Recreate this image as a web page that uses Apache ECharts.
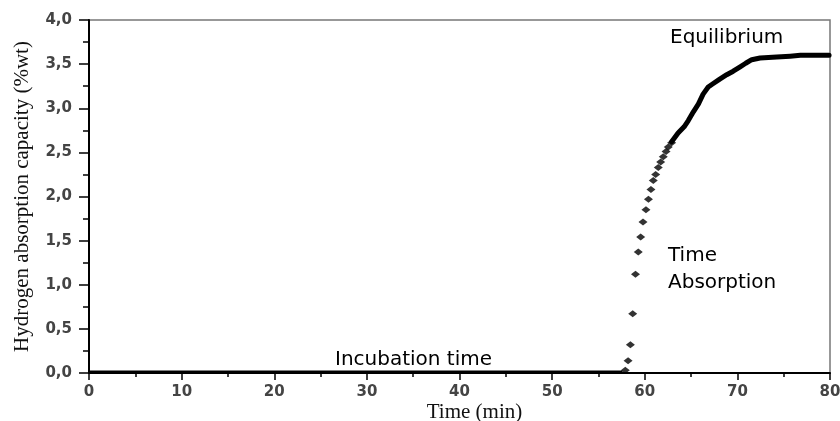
<!DOCTYPE html>
<html>
<head>
<meta charset="utf-8">
<script src="https://cdn.jsdelivr.net/npm/echarts@6/dist/echarts.min.js"></script>
<style>
  html, body { margin: 0; padding: 0; background: #fff; }
  #chart { width: 840px; height: 421px; }
</style>
</head>
<body>
<div id="chart"></div>
<script>
const baselineTime = [0, 15, 30, 45, 57.6]
const baselineCap = [0.015, 0.015, 0.015, 0.015, 0.015]

const steepTime = [57.9, 58.2, 58.45, 58.7, 59.0, 59.3, 59.56, 59.81, 60.13, 60.4, 60.67, 60.92, 61.18, 61.46, 61.72, 62.0, 62.3, 62.54, 62.9]
const steepCap = [0.03, 0.14, 0.32, 0.67, 1.12, 1.37, 1.54, 1.71, 1.85, 1.97, 2.08, 2.18, 2.25, 2.33, 2.39, 2.45, 2.51, 2.56, 2.61]

const plateauTime = [62.9, 63.6, 64.25, 64.7, 65.25, 65.8, 66.3, 66.85, 67.4, 68.1, 68.85, 69.55, 70.3, 70.9, 71.55, 72.45, 74.25, 75.7, 76.8, 79.9]
const plateauCap = [2.62, 2.72, 2.79, 2.86, 2.96, 3.05, 3.16, 3.24, 3.28, 3.33, 3.38, 3.42, 3.47, 3.51, 3.55, 3.57, 3.58, 3.59, 3.60, 3.60]

const pairs = (xs, ys) => xs.map((x, i) => [x, ys[i]])

const chart = echarts.init(document.getElementById('chart'))
const labelFont = { color: '#444', fontFamily: 'DejaVu Sans', fontWeight: 'bold', fontSize: 15 }
const noteFont = '20px "DejaVu Sans"'

chart.setOption({
  animation: false,
  grid: {
    left: 89, right: 10, top: 20, bottom: 48,
    outerBoundsMode: 'none',
    containLabel: false,
    show: true, borderColor: '#777', borderWidth: 1.5
  },
  xAxis: {
    type: 'value',
    min: 0, max: 80, interval: 10,
    name: 'Time (min)',
    nameLocation: 'middle',
    nameGap: 29,
    nameMoveOverlap: false,
    nameTextStyle: { fontFamily: 'Liberation Serif', fontSize: 21, color: '#111', padding: [0, 0, 0, 30] },
    axisLine: { lineStyle: { color: '#000', width: 2 } },
    axisTick: { length: 7, lineStyle: { color: '#000', width: 1.5 } },
    minorTick: { show: true, splitNumber: 2, length: 4, lineStyle: { color: '#000', width: 1.5 } },
    axisLabel: Object.assign({ margin: 12 }, labelFont),
    splitLine: { show: false }
  },
  yAxis: {
    type: 'value',
    min: 0, max: 4, interval: 0.5,
    name: 'Hydrogen absorption capacity (%wt)',
    nameLocation: 'middle',
    nameGap: 56,
    nameMoveOverlap: false,
    nameTextStyle: { fontFamily: 'Liberation Serif', fontSize: 21, color: '#111' },
    axisLine: { lineStyle: { color: '#000', width: 2 } },
    axisTick: { length: 10, lineStyle: { color: '#000', width: 1.5 } },
    minorTick: { show: true, splitNumber: 2, length: 6, lineStyle: { color: '#000', width: 1.5 } },
    axisLabel: Object.assign({ margin: 17, formatter: v => v.toFixed(1).replace('.', ',') }, labelFont),
    splitLine: { show: false }
  },
  series: [
    {
      type: 'line',
      data: pairs(baselineTime, baselineCap),
      symbol: 'none',
      lineStyle: { color: '#000', width: 2.5 }
    },
    {
      type: 'scatter',
      data: pairs(steepTime, steepCap),
      symbol: 'diamond',
      symbolSize: [9, 7],
      itemStyle: { color: '#000' }
    },
    {
      type: 'line',
      data: pairs(plateauTime, plateauCap),
      symbol: 'none',
      lineStyle: { color: '#000', width: 5, cap: 'round', join: 'round' }
    }
  ],
  graphic: [
    { type: 'text', style: { text: 'Equilibrium', x: 670, y: 38, font: noteFont, fill: '#000', textVerticalAlign: 'middle' } },
    { type: 'text', style: { text: 'Time', x: 668, y: 256, font: noteFont, fill: '#000', textVerticalAlign: 'middle' } },
    { type: 'text', style: { text: 'Absorption', x: 668, y: 283, font: noteFont, fill: '#000', textVerticalAlign: 'middle' } },
    { type: 'text', style: { text: 'Incubation time', x: 335, y: 360, font: noteFont, fill: '#000', textVerticalAlign: 'middle' } }
  ]
})
</script>
</body>
</html>
